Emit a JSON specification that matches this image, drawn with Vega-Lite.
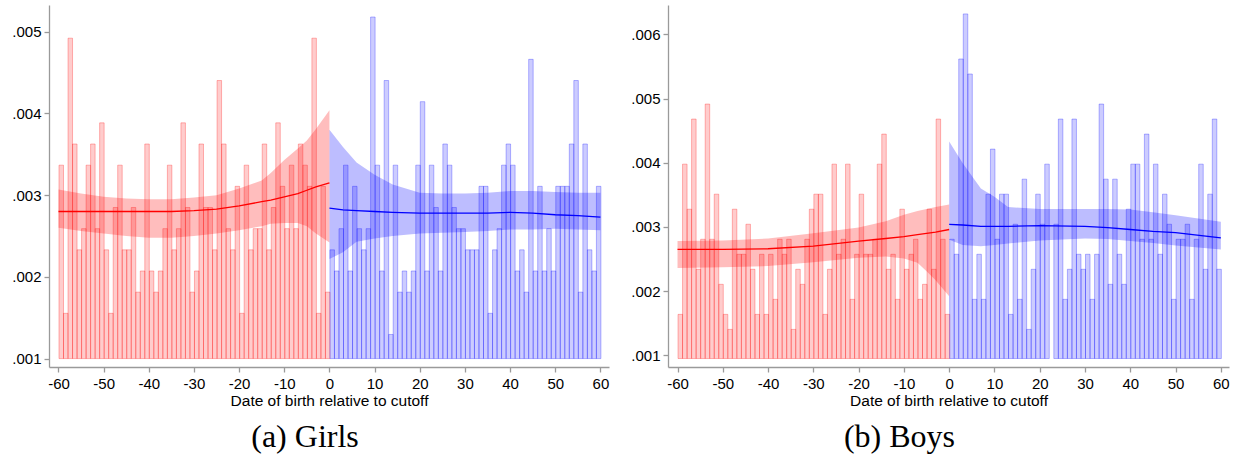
{
  "$schema": "https://vega.github.io/schema/vega-lite/v6.json",
  "background": "white",
  "padding": {"left": 11, "top": 5, "right": 5, "bottom": 5},
  "spacing": 21,
  "config": {
    "view": {"stroke": null},
    "font": "Liberation Sans",
    "bar": {"binSpacing": 0},
    "axis": {
      "domainColor": "#9a9a9a", "tickColor": "#9a9a9a", "domainWidth": 1.3, "tickWidth": 1.3, "tickSize": 5,
      "labelColor": "black", "labelFont": "Liberation Sans", "labelFontSize": 15,
      "titleFont": "Liberation Sans", "titleFontSize": 15.5, "titleFontWeight": "normal", "titleColor": "black",
      "grid": false
    }
  },
  "datasets": {
    "girls_bars": [
      {"d":-60,"v":0.003367,"side":"L"},{"d":-59,"v":0.001554,"side":"L"},{"d":-58,"v":0.004921,"side":"L"},{"d":-57,"v":0.003626,"side":"L"},{"d":-56,"v":0.002331,"side":"L"},{"d":-55,"v":0.00259,"side":"L"},{"d":-54,"v":0.003367,"side":"L"},{"d":-53,"v":0.003626,"side":"L"},{"d":-52,"v":0.00259,"side":"L"},{"d":-51,"v":0.003885,"side":"L"},
      {"d":-50,"v":0.002331,"side":"L"},{"d":-49,"v":0.001554,"side":"L"},{"d":-48,"v":0.002849,"side":"L"},{"d":-47,"v":0.003367,"side":"L"},{"d":-46,"v":0.002331,"side":"L"},{"d":-45,"v":0.002331,"side":"L"},{"d":-44,"v":0.002849,"side":"L"},{"d":-43,"v":0.001813,"side":"L"},{"d":-42,"v":0.002072,"side":"L"},{"d":-41,"v":0.003626,"side":"L"},
      {"d":-40,"v":0.002072,"side":"L"},{"d":-39,"v":0.001813,"side":"L"},{"d":-38,"v":0.002072,"side":"L"},{"d":-37,"v":0.00259,"side":"L"},{"d":-36,"v":0.003367,"side":"L"},{"d":-35,"v":0.002331,"side":"L"},{"d":-34,"v":0.00259,"side":"L"},{"d":-33,"v":0.003885,"side":"L"},{"d":-32,"v":0.002849,"side":"L"},{"d":-31,"v":0.001813,"side":"L"},
      {"d":-30,"v":0.002072,"side":"L"},{"d":-29,"v":0.003626,"side":"L"},{"d":-28,"v":0.002849,"side":"L"},{"d":-27,"v":0.002849,"side":"L"},{"d":-26,"v":0.002331,"side":"L"},{"d":-25,"v":0.004403,"side":"L"},{"d":-24,"v":0.003626,"side":"L"},{"d":-23,"v":0.00259,"side":"L"},{"d":-22,"v":0.002331,"side":"L"},{"d":-21,"v":0.003108,"side":"L"},
      {"d":-20,"v":0.001554,"side":"L"},{"d":-19,"v":0.003367,"side":"L"},{"d":-18,"v":0.002331,"side":"L"},{"d":-17,"v":0.00259,"side":"L"},{"d":-16,"v":0.00259,"side":"L"},{"d":-15,"v":0.003626,"side":"L"},{"d":-14,"v":0.002331,"side":"L"},{"d":-13,"v":0.002849,"side":"L"},{"d":-12,"v":0.003885,"side":"L"},{"d":-11,"v":0.003108,"side":"L"},
      {"d":-10,"v":0.00259,"side":"L"},{"d":-9,"v":0.003367,"side":"L"},{"d":-8,"v":0.00259,"side":"L"},{"d":-7,"v":0.003626,"side":"L"},{"d":-6,"v":0.003367,"side":"L"},{"d":-5,"v":0.003108,"side":"L"},{"d":-4,"v":0.004921,"side":"L"},{"d":-3,"v":0.001554,"side":"L"},{"d":-2,"v":0.003108,"side":"L"},{"d":-1,"v":0.001813,"side":"L"},
      {"d":0,"v":0.002331,"side":"R"},{"d":1,"v":0.002072,"side":"R"},{"d":2,"v":0.00259,"side":"R"},{"d":3,"v":0.003367,"side":"R"},{"d":4,"v":0.002072,"side":"R"},{"d":5,"v":0.003108,"side":"R"},{"d":6,"v":0.00259,"side":"R"},{"d":7,"v":0.002331,"side":"R"},{"d":8,"v":0.00259,"side":"R"},{"d":9,"v":0.00518,"side":"R"},
      {"d":10,"v":0.003367,"side":"R"},{"d":11,"v":0.002072,"side":"R"},{"d":12,"v":0.004403,"side":"R"},{"d":13,"v":0.001295,"side":"R"},{"d":14,"v":0.003367,"side":"R"},{"d":15,"v":0.001813,"side":"R"},{"d":16,"v":0.002072,"side":"R"},{"d":17,"v":0.001813,"side":"R"},{"d":18,"v":0.002072,"side":"R"},{"d":19,"v":0.003367,"side":"R"},
      {"d":20,"v":0.004144,"side":"R"},{"d":21,"v":0.002072,"side":"R"},{"d":22,"v":0.003367,"side":"R"},{"d":23,"v":0.002849,"side":"R"},{"d":24,"v":0.002072,"side":"R"},{"d":25,"v":0.003626,"side":"R"},{"d":26,"v":0.003367,"side":"R"},{"d":27,"v":0.002849,"side":"R"},{"d":28,"v":0.00259,"side":"R"},{"d":29,"v":0.00259,"side":"R"},
      {"d":30,"v":0.002331,"side":"R"},{"d":31,"v":0.002331,"side":"R"},{"d":32,"v":0.002331,"side":"R"},{"d":33,"v":0.003108,"side":"R"},{"d":34,"v":0.003108,"side":"R"},{"d":35,"v":0.001554,"side":"R"},{"d":36,"v":0.002331,"side":"R"},{"d":37,"v":0.00259,"side":"R"},{"d":38,"v":0.003367,"side":"R"},{"d":39,"v":0.003626,"side":"R"},
      {"d":40,"v":0.003367,"side":"R"},{"d":41,"v":0.002072,"side":"R"},{"d":42,"v":0.002331,"side":"R"},{"d":43,"v":0.001813,"side":"R"},{"d":44,"v":0.004662,"side":"R"},{"d":45,"v":0.002072,"side":"R"},{"d":46,"v":0.003108,"side":"R"},{"d":47,"v":0.002072,"side":"R"},{"d":48,"v":0.00259,"side":"R"},{"d":49,"v":0.002072,"side":"R"},
      {"d":50,"v":0.003108,"side":"R"},{"d":51,"v":0.003108,"side":"R"},{"d":52,"v":0.003108,"side":"R"},{"d":53,"v":0.003626,"side":"R"},{"d":54,"v":0.004403,"side":"R"},{"d":55,"v":0.001813,"side":"R"},{"d":56,"v":0.003626,"side":"R"},{"d":57,"v":0.002331,"side":"R"},{"d":58,"v":0.002072,"side":"R"},{"d":59,"v":0.003108,"side":"R"}
    ],
    "girls_fit": [
      {"d":-60,"side":"L","fit":0.0028,"lo":0.0026,"hi":0.00307},
      {"d":-55,"side":"L","fit":0.0028,"lo":0.00256,"hi":0.00302},
      {"d":-50,"side":"L","fit":0.0028,"lo":0.00253,"hi":0.00298},
      {"d":-45,"side":"L","fit":0.0028,"lo":0.0025,"hi":0.00296},
      {"d":-40,"side":"L","fit":0.0028,"lo":0.00248,"hi":0.00295},
      {"d":-35,"side":"L","fit":0.0028,"lo":0.00248,"hi":0.00295},
      {"d":-30,"side":"L","fit":0.00281,"lo":0.0025,"hi":0.00297},
      {"d":-25,"side":"L","fit":0.00283,"lo":0.00253,"hi":0.003},
      {"d":-20,"side":"L","fit":0.00287,"lo":0.00257,"hi":0.00308},
      {"d":-15,"side":"L","fit":0.00292,"lo":0.00262,"hi":0.00318},
      {"d":-13,"side":"L","fit":0.00294,"lo":0.00265,"hi":0.00327},
      {"d":-10,"side":"L","fit":0.00298,"lo":0.00266,"hi":0.00343},
      {"d":-7,"side":"L","fit":0.00302,"lo":0.00266,"hi":0.00357},
      {"d":-5,"side":"L","fit":0.00306,"lo":0.00262,"hi":0.00367},
      {"d":-3,"side":"L","fit":0.0031,"lo":0.00253,"hi":0.00381},
      {"d":0,"side":"L","fit":0.00315,"lo":0.00242,"hi":0.00404},
      {"d":0,"side":"R","fit":0.00284,"lo":0.00222,"hi":0.0038},
      {"d":3,"side":"R","fit":0.00282,"lo":0.0023,"hi":0.00359},
      {"d":6,"side":"R","fit":0.00281,"lo":0.00243,"hi":0.0034},
      {"d":10,"side":"R","fit":0.0028,"lo":0.00247,"hi":0.00325},
      {"d":14,"side":"R","fit":0.00279,"lo":0.0025,"hi":0.00313},
      {"d":20,"side":"R","fit":0.00278,"lo":0.00253,"hi":0.00303},
      {"d":25,"side":"R","fit":0.00278,"lo":0.00254,"hi":0.00302},
      {"d":30,"side":"R","fit":0.00278,"lo":0.00255,"hi":0.00302},
      {"d":35,"side":"R","fit":0.00278,"lo":0.00256,"hi":0.00303},
      {"d":40,"side":"R","fit":0.00279,"lo":0.00258,"hi":0.00305},
      {"d":45,"side":"R","fit":0.00278,"lo":0.00258,"hi":0.00305},
      {"d":50,"side":"R","fit":0.00276,"lo":0.00259,"hi":0.00304},
      {"d":55,"side":"R","fit":0.00275,"lo":0.00258,"hi":0.00303},
      {"d":60,"side":"R","fit":0.00273,"lo":0.00257,"hi":0.00303}
    ],
    "boys_bars": [
      {"d":-60,"v":0.001638,"side":"L"},{"d":-59,"v":0.003978,"side":"L"},{"d":-58,"v":0.003276,"side":"L"},{"d":-57,"v":0.00468,"side":"L"},{"d":-56,"v":0.00234,"side":"L"},{"d":-55,"v":0.002808,"side":"L"},{"d":-54,"v":0.004914,"side":"L"},{"d":-53,"v":0.002808,"side":"L"},{"d":-52,"v":0.00351,"side":"L"},{"d":-51,"v":0.002106,"side":"L"},
      {"d":-50,"v":0.001638,"side":"L"},{"d":-49,"v":0.001404,"side":"L"},{"d":-48,"v":0.003276,"side":"L"},{"d":-47,"v":0.002574,"side":"L"},{"d":-46,"v":0.002574,"side":"L"},{"d":-45,"v":0.003042,"side":"L"},{"d":-44,"v":0.00234,"side":"L"},{"d":-43,"v":0.001638,"side":"L"},{"d":-42,"v":0.002574,"side":"L"},{"d":-41,"v":0.001638,"side":"L"},
      {"d":-40,"v":0.002574,"side":"L"},{"d":-39,"v":0.001872,"side":"L"},{"d":-38,"v":0.002808,"side":"L"},{"d":-37,"v":0.002574,"side":"L"},{"d":-36,"v":0.002808,"side":"L"},{"d":-35,"v":0.001404,"side":"L"},{"d":-34,"v":0.00234,"side":"L"},{"d":-33,"v":0.002106,"side":"L"},{"d":-32,"v":0.002808,"side":"L"},{"d":-31,"v":0.003276,"side":"L"},
      {"d":-30,"v":0.00351,"side":"L"},{"d":-29,"v":0.00351,"side":"L"},{"d":-28,"v":0.001638,"side":"L"},{"d":-27,"v":0.00234,"side":"L"},{"d":-26,"v":0.003978,"side":"L"},{"d":-25,"v":0.002574,"side":"L"},{"d":-24,"v":0.002808,"side":"L"},{"d":-23,"v":0.003978,"side":"L"},{"d":-22,"v":0.001872,"side":"L"},{"d":-21,"v":0.002574,"side":"L"},
      {"d":-20,"v":0.00351,"side":"L"},{"d":-19,"v":0.002574,"side":"L"},{"d":-18,"v":0.002574,"side":"L"},{"d":-17,"v":0.002808,"side":"L"},{"d":-16,"v":0.003978,"side":"L"},{"d":-15,"v":0.004446,"side":"L"},{"d":-14,"v":0.00234,"side":"L"},{"d":-13,"v":0.002574,"side":"L"},{"d":-12,"v":0.001872,"side":"L"},{"d":-11,"v":0.003276,"side":"L"},
      {"d":-10,"v":0.00234,"side":"L"},{"d":-9,"v":0.002574,"side":"L"},{"d":-8,"v":0.002808,"side":"L"},{"d":-7,"v":0.001872,"side":"L"},{"d":-6,"v":0.002106,"side":"L"},{"d":-5,"v":0.003276,"side":"L"},{"d":-4,"v":0.00234,"side":"L"},{"d":-3,"v":0.00468,"side":"L"},{"d":-2,"v":0.002808,"side":"L"},{"d":-1,"v":0.001638,"side":"L"},
      {"d":0,"v":0.002808,"side":"R"},{"d":1,"v":0.002574,"side":"R"},{"d":2,"v":0.005616,"side":"R"},{"d":3,"v":0.006318,"side":"R"},{"d":4,"v":0.005382,"side":"R"},{"d":5,"v":0.001872,"side":"R"},{"d":6,"v":0.002574,"side":"R"},{"d":7,"v":0.001872,"side":"R"},{"d":8,"v":0.00351,"side":"R"},{"d":9,"v":0.004212,"side":"R"},
      {"d":10,"v":0.002808,"side":"R"},{"d":11,"v":0.00351,"side":"R"},{"d":12,"v":0.00351,"side":"R"},{"d":13,"v":0.001638,"side":"R"},{"d":14,"v":0.003042,"side":"R"},{"d":15,"v":0.001872,"side":"R"},{"d":16,"v":0.003744,"side":"R"},{"d":17,"v":0.001404,"side":"R"},{"d":18,"v":0.00234,"side":"R"},{"d":19,"v":0.00351,"side":"R"},
      {"d":20,"v":0.003042,"side":"R"},{"d":21,"v":0.003978,"side":"R"},{"d":23,"v":0.003042,"side":"R"},{"d":24,"v":0.00468,"side":"R"},{"d":25,"v":0.001872,"side":"R"},{"d":26,"v":0.00234,"side":"R"},{"d":27,"v":0.00468,"side":"R"},{"d":28,"v":0.002574,"side":"R"},{"d":29,"v":0.00234,"side":"R"},
      {"d":30,"v":0.002574,"side":"R"},{"d":31,"v":0.001872,"side":"R"},{"d":32,"v":0.002574,"side":"R"},{"d":33,"v":0.004914,"side":"R"},{"d":34,"v":0.003744,"side":"R"},{"d":35,"v":0.002106,"side":"R"},{"d":36,"v":0.003744,"side":"R"},{"d":37,"v":0.002574,"side":"R"},{"d":38,"v":0.002106,"side":"R"},{"d":39,"v":0.003276,"side":"R"},
      {"d":40,"v":0.003978,"side":"R"},{"d":41,"v":0.003978,"side":"R"},{"d":42,"v":0.002808,"side":"R"},{"d":43,"v":0.004446,"side":"R"},{"d":44,"v":0.002808,"side":"R"},{"d":45,"v":0.003978,"side":"R"},{"d":46,"v":0.002574,"side":"R"},{"d":47,"v":0.00351,"side":"R"},{"d":48,"v":0.003042,"side":"R"},{"d":49,"v":0.001872,"side":"R"},
      {"d":50,"v":0.002808,"side":"R"},{"d":51,"v":0.002808,"side":"R"},{"d":52,"v":0.003042,"side":"R"},{"d":53,"v":0.001872,"side":"R"},{"d":54,"v":0.002808,"side":"R"},{"d":55,"v":0.003978,"side":"R"},{"d":56,"v":0.00234,"side":"R"},{"d":57,"v":0.00351,"side":"R"},{"d":58,"v":0.00468,"side":"R"},{"d":59,"v":0.00234,"side":"R"}
    ],
    "boys_fit": [
      {"d":-60,"side":"L","fit":0.00265,"lo":0.00236,"hi":0.00278},
      {"d":-50,"side":"L","fit":0.00265,"lo":0.00237,"hi":0.00279},
      {"d":-40,"side":"L","fit":0.00266,"lo":0.00239,"hi":0.00282},
      {"d":-30,"side":"L","fit":0.0027,"lo":0.00245,"hi":0.0029},
      {"d":-20,"side":"L","fit":0.00278,"lo":0.00252,"hi":0.00299},
      {"d":-14,"side":"L","fit":0.00282,"lo":0.00254,"hi":0.00309},
      {"d":-10,"side":"L","fit":0.00285,"lo":0.00251,"hi":0.00319},
      {"d":-7,"side":"L","fit":0.00288,"lo":0.00244,"hi":0.00325},
      {"d":-5,"side":"L","fit":0.0029,"lo":0.00231,"hi":0.00328},
      {"d":-3,"side":"L","fit":0.00292,"lo":0.00217,"hi":0.00331},
      {"d":0,"side":"L","fit":0.00296,"lo":0.00192,"hi":0.00335},
      {"d":0,"side":"R","fit":0.00304,"lo":0.0028,"hi":0.00433},
      {"d":3,"side":"R","fit":0.00303,"lo":0.00272,"hi":0.00399},
      {"d":7,"side":"R","fit":0.00301,"lo":0.0027,"hi":0.0036},
      {"d":10,"side":"R","fit":0.00301,"lo":0.00272,"hi":0.00347},
      {"d":13,"side":"R","fit":0.00301,"lo":0.00274,"hi":0.00331},
      {"d":20,"side":"R","fit":0.00302,"lo":0.00279,"hi":0.00328},
      {"d":30,"side":"R","fit":0.00301,"lo":0.00282,"hi":0.00328},
      {"d":35,"side":"R","fit":0.00299,"lo":0.00281,"hi":0.00328},
      {"d":40,"side":"R","fit":0.00296,"lo":0.00278,"hi":0.00327},
      {"d":45,"side":"R","fit":0.00293,"lo":0.00275,"hi":0.00323},
      {"d":50,"side":"R","fit":0.00291,"lo":0.00271,"hi":0.00318},
      {"d":60,"side":"R","fit":0.00283,"lo":0.00265,"hi":0.00308}
    ]
  },
  "hconcat": [
    {
      "width": 560, "height": 362,
      "title": {"text": "(a) Girls", "orient": "bottom", "anchor": "middle", "font": "Liberation Serif", "fontSize": 32, "fontWeight": "normal", "color": "black", "offset": 13, "dx": -24},
      "layer": [
        {
          "data": {"name": "girls_bars"},
          "mark": {"type": "bar", "fillOpacity": 0.2, "strokeOpacity": 0.28, "strokeWidth": 1},
          "encoding": {
            "x": {"field": "d", "type": "quantitative", "bin": {"step": 1, "extent": [-60, 60], "nice": false},
                  "scale": {"domain": [-62.1, 61.9], "nice": false, "zero": false},
                  "axis": {"values": [-60,-50,-40,-30,-20,-10,0,10,20,30,40,50,60], "labelExpr": "datum.value + ''", "title": "Date of birth relative to cutoff", "labelPadding": 4, "titlePadding": 2}},
            "y": {"field": "v", "type": "quantitative", "aggregate": "sum",
                  "scale": {"domain": [0.000897, 0.005327], "nice": false, "zero": false},
                  "axis": {"values": [0.001,0.002,0.003,0.004,0.005], "labelExpr": "substring(format(datum.value, '.3f'), 1)", "title": null, "labelPadding": 3}},
            "y2": {"datum": 0.001},
            "color": {"field": "side", "type": "nominal", "scale": {"domain": ["L","R"], "range": ["#ff0000","#0000ff"]}, "legend": null},
            "stroke": {"field": "side", "type": "nominal", "scale": {"domain": ["L","R"], "range": ["#ff0000","#0000ff"]}, "legend": null}
          }
        },
        {
          "data": {"name": "girls_fit"},
          "mark": {"type": "area", "fillOpacity": 0.26},
          "encoding": {
            "x": {"field": "d", "type": "quantitative", "scale": {"domain": [-62.1, 61.9], "nice": false, "zero": false}},
            "y": {"field": "lo", "type": "quantitative", "stack": null, "scale": {"domain": [0.000897, 0.005327], "nice": false, "zero": false}},
            "y2": {"field": "hi"},
            "color": {"field": "side", "type": "nominal", "scale": {"domain": ["L","R"], "range": ["#ff0000","#0000ff"]}, "legend": null}
          }
        },
        {
          "data": {"name": "girls_fit"},
          "mark": {"type": "line", "strokeWidth": 1.3},
          "encoding": {
            "x": {"field": "d", "type": "quantitative", "scale": {"domain": [-62.1, 61.9], "nice": false, "zero": false}},
            "y": {"field": "fit", "type": "quantitative", "stack": null, "scale": {"domain": [0.000897, 0.005327], "nice": false, "zero": false}},
            "color": {"field": "side", "type": "nominal", "scale": {"domain": ["L","R"], "range": ["#ff0000","#0000ff"]}, "legend": null}
          }
        }
      ]
    },
    {
      "width": 561, "height": 362,
      "title": {"text": "(b) Boys", "orient": "bottom", "anchor": "middle", "font": "Liberation Serif", "fontSize": 32, "fontWeight": "normal", "color": "black", "offset": 13, "dx": -49},
      "layer": [
        {
          "data": {"name": "boys_bars"},
          "mark": {"type": "bar", "fillOpacity": 0.2, "strokeOpacity": 0.28, "strokeWidth": 1},
          "encoding": {
            "x": {"field": "d", "type": "quantitative", "bin": {"step": 1, "extent": [-60, 60], "nice": false},
                  "scale": {"domain": [-62.1, 61.8], "nice": false, "zero": false},
                  "axis": {"values": [-60,-50,-40,-30,-20,-10,0,10,20,30,40,50,60], "labelExpr": "datum.value + ''", "title": "Date of birth relative to cutoff", "labelPadding": 4, "titlePadding": 2}},
            "y": {"field": "v", "type": "quantitative", "aggregate": "sum",
                  "scale": {"domain": [0.000818, 0.006457], "nice": false, "zero": false},
                  "axis": {"values": [0.001,0.002,0.003,0.004,0.005,0.006], "labelExpr": "substring(format(datum.value, '.3f'), 1)", "title": null, "labelPadding": 3}},
            "y2": {"datum": 0.00095},
            "color": {"field": "side", "type": "nominal", "scale": {"domain": ["L","R"], "range": ["#ff0000","#0000ff"]}, "legend": null},
            "stroke": {"field": "side", "type": "nominal", "scale": {"domain": ["L","R"], "range": ["#ff0000","#0000ff"]}, "legend": null}
          }
        },
        {
          "data": {"name": "boys_fit"},
          "mark": {"type": "area", "fillOpacity": 0.26},
          "encoding": {
            "x": {"field": "d", "type": "quantitative", "scale": {"domain": [-62.1, 61.8], "nice": false, "zero": false}},
            "y": {"field": "lo", "type": "quantitative", "stack": null, "scale": {"domain": [0.000818, 0.006457], "nice": false, "zero": false}},
            "y2": {"field": "hi"},
            "color": {"field": "side", "type": "nominal", "scale": {"domain": ["L","R"], "range": ["#ff0000","#0000ff"]}, "legend": null}
          }
        },
        {
          "data": {"name": "boys_fit"},
          "mark": {"type": "line", "strokeWidth": 1.3},
          "encoding": {
            "x": {"field": "d", "type": "quantitative", "scale": {"domain": [-62.1, 61.8], "nice": false, "zero": false}},
            "y": {"field": "fit", "type": "quantitative", "stack": null, "scale": {"domain": [0.000818, 0.006457], "nice": false, "zero": false}},
            "color": {"field": "side", "type": "nominal", "scale": {"domain": ["L","R"], "range": ["#ff0000","#0000ff"]}, "legend": null}
          }
        }
      ]
    }
  ]
}
